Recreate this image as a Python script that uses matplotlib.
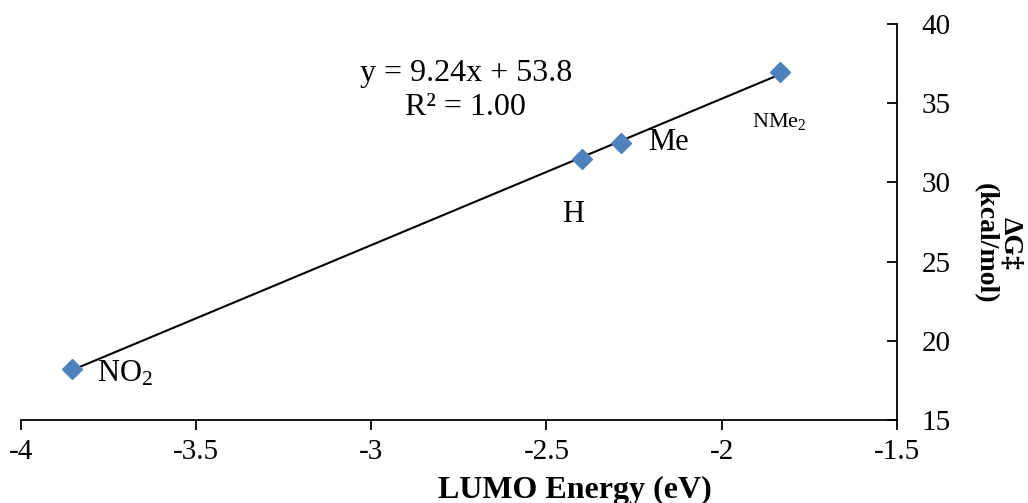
import numpy as np
import matplotlib
matplotlib.use("Agg")
import matplotlib.pyplot as plt

# LUMO energy (eV) vs activation barrier (kcal/mol)
substituents = ["NO$_\\mathrm{2}$", "H", "Me", "NMe$_\\mathrm{2}$"]
lumo_ev = [-3.855, -2.40, -2.286, -1.834]
dg_kcal = [18.2, 31.5, 32.5, 37.0]

x_ticks = [-4, -3.5, -3, -2.5, -2, -1.5]
y_ticks = [15, 20, 25, 30, 35, 40]

plt.rcParams["font.family"] = ["Liberation Serif", "DejaVu Serif"]
plt.rcParams["mathtext.fontset"] = "custom"
plt.rcParams["mathtext.rm"] = "Liberation Serif"
plt.rcParams["mathtext.it"] = "Liberation Serif:italic"
plt.rcParams["mathtext.bf"] = "Liberation Serif:bold"


def _main():
    fig = plt.figure(figsize=(10.28, 5.03), dpi=100)
    ax = fig.add_axes([0.0204, 0.165, 0.852, 0.787])

    # linear trendline over the data range
    slope, intercept = np.polyfit(lumo_ev, dg_kcal, 1)
    xs = np.array([min(lumo_ev), max(lumo_ev)])
    ax.plot(xs, slope * xs + intercept, color="black", lw=1.5, zorder=2)

    ax.plot(lumo_ev, dg_kcal, linestyle="none", marker="D", ms=10.5,
            color="#4F81BD", mec="#4F81BD", zorder=3)

    # data labels (offsets in points)
    offsets = [(18, -3, "left", 22), (-6, -40, "center", 22),
               (19, 0, "left", 22), (0, -36, "center", 16)]
    for name, x, y, (dx, dy, ha, fs) in zip(substituents, lumo_ev, dg_kcal, offsets):
        ax.annotate(name, (x, y), xytext=(dx, dy), textcoords="offset points",
                    ha=ha, va="center", fontsize=fs)

    ax.text(-2.73, 35.8, "y = 9.24x + 53.8\nR² = 1.00", ha="center",
            va="center", fontsize=23, linespacing=1.2)

    ax.set_xlim(-4, -1.5)
    ax.set_ylim(15, 40)
    ax.set_xticks(x_ticks)
    ax.set_xticklabels([f"{t:g}" for t in x_ticks])
    ax.set_yticks(y_ticks)

    for side in ["top", "left"]:
        ax.spines[side].set_visible(False)
    for side in ["bottom", "right"]:
        ax.spines[side].set_linewidth(1.3)

    ax.yaxis.tick_right()
    ax.tick_params(axis="x", direction="out", length=7, width=1.3,
                   labelsize=21, pad=7)
    ax.tick_params(axis="y", direction="in", length=7, width=1.3,
                   labelsize=21, pad=18)

    fig.text(575 / 1028, 5 / 503, "LUMO Energy (eV)", ha="center",
             va="baseline", fontsize=23, fontweight="bold")
    fig.text(998 / 1028, 1 - 243 / 503, "ΔG‡\n(kcal/mol)", rotation=270,
             ha="center", va="center", multialignment="center",
             fontsize=20, fontweight="bold", linespacing=1.0)

    fig.savefig("out.png", dpi=100)


if __name__ == "__main__":
    _main()
